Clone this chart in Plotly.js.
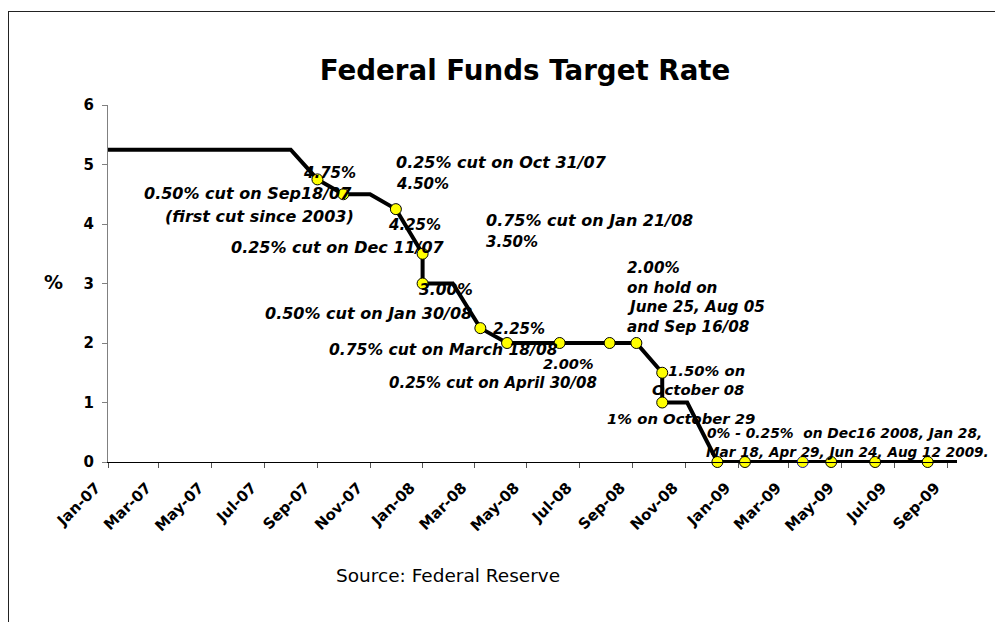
<!DOCTYPE html>
<html>
<head>
<meta charset="utf-8">
<script src="https://cdn.plot.ly/plotly-3.0.1.min.js"></script>
<style>
  html, body { margin: 0; padding: 0; background: #ffffff; overflow: hidden; }
  #chart { width: 995px; height: 622px; position: absolute; left: 0; top: 0; }
  #frame { position: absolute; left: 8px; top: 11px; width: 1100px; height: 700px;
           border-left: 1.5px solid #222; border-top: 1.5px solid #222; pointer-events: none; }
</style>
</head>
<body>
<div id="chart"></div>
<div id="frame"></div>
<script>
// Federal funds target rate path (line vertices)
const pathDates = ['2007-01-01','2007-08-01','2007-09-01','2007-10-01','2007-11-01','2007-12-01',
                   '2008-01-01','2008-01-01','2008-02-05','2008-03-08','2008-04-08','2008-06-08',
                   '2008-08-05','2008-09-05','2008-10-05','2008-10-05','2008-11-03','2008-12-08',
                   '2009-09-12'];
const pathRates = [5.25, 5.25, 4.75, 4.50, 4.50, 4.25,
                   3.50, 3.00, 3.00, 2.25, 2.00, 2.00,
                   2.00, 2.00, 1.50, 1.00, 1.00, 0.00,
                   0.00];

// FOMC decision points (yellow markers)
const meetingDates = ['2007-09-01','2007-10-01','2007-12-01','2008-01-01','2008-01-01','2008-03-08',
                      '2008-04-08','2008-06-08','2008-08-05','2008-09-05','2008-10-05','2008-10-05',
                      '2008-12-08','2009-01-09','2009-03-17','2009-04-19','2009-06-09','2009-08-09'];
const meetingRates = [4.75, 4.50, 4.25, 3.50, 3.00, 2.25,
                      2.00, 2.00, 2.00, 2.00, 1.50, 1.00,
                      0.00, 0.00, 0.00, 0.00, 0.00, 0.00];

// x-axis tick labels
const tickDates = ['2007-01-01','2007-03-01','2007-05-01','2007-07-01','2007-09-01','2007-11-01',
                   '2008-01-01','2008-03-01','2008-05-01','2008-07-01','2008-09-01','2008-11-01',
                   '2009-01-01','2009-03-01','2009-05-01','2009-07-01','2009-09-01'];
const tickLabels = ['Jan-07','Mar-07','May-07','Jul-07','Sep-07','Nov-07',
                    'Jan-08','Mar-08','May-08','Jul-08','Sep-08','Nov-08',
                    'Jan-09','Mar-09','May-09','Jul-09','Sep-09'];
const rateTicks = [0, 1, 2, 3, 4, 5, 6];

// plot-area edges in pixels, used to place the callout text
const PL = 108, PR = 957.5, PT = 104.5, PB = 462;
const px = x => (x - PL) / (PR - PL);
const py = y => (PB - y) / (PB - PT);

const FONT = 'DejaVu Sans, Verdana, sans-serif';

// callouts: [text, left x, centre y, font size]
const notes = [
  ['4.75%', 302, 173, 15],
  ['0.25% cut on Oct 31/07', 395, 162, 16],
  ['4.50%', 395, 184, 15],
  ['0.50% cut on Sep18/07', 143, 193, 16],
  ['(first cut since 2003)', 164, 216, 16],
  ['4.25%', 387, 225, 15],
  ['0.25% cut on Dec 11/07', 230, 247, 16],
  ['0.75% cut on Jan 21/08', 485, 220, 16],
  ['3.50%', 485, 242, 15],
  ['3.00%', 418, 290, 15.5],
  ['0.50% cut on Jan 30/08', 264, 313, 16],
  ['2.25%', 492, 329, 15],
  ['0.75% cut on March 18/08', 328, 350, 15.6],
  ['2.00%', 542, 363, 14.6],
  ['0.25% cut on April 30/08', 388, 383, 15],
  ['2.00%', 626, 268, 15.2],
  ['on hold on', 626, 288, 15.2],
  ['June 25, Aug 05', 626, 307, 15.2],
  ['and Sep 16/08', 626, 327, 15.2],
  ['1.50% on', 667, 370, 14.8],
  ['October 08', 651, 389, 14.8],
  ['1% on October 29', 606, 418, 14.8],
  ['0% - 0.25%\u00a0 on Dec16 2008, Jan 28,', 706, 433, 13.8],
  ['Mar 18, Apr 29, Jun 24, Aug 12 2009.', 705, 452, 13.6]
];

const annotations = notes.map(n => ({
  text: n[0], xref: 'paper', yref: 'paper', x: px(n[1]), y: py(n[2]),
  xanchor: 'left', yanchor: 'middle', showarrow: false, borderpad: 0,
  font: { family: FONT, size: n[3], color: '#000', weight: 'bold', style: 'italic' }
}));

annotations.push({
  text: '%', xref: 'paper', yref: 'paper', x: px(42), y: py(282),
  xanchor: 'left', yanchor: 'middle', showarrow: false,
  font: { family: FONT, size: 19, color: '#000', weight: 'bold' }
});
annotations.push({
  text: 'Source: Federal Reserve', xref: 'paper', yref: 'paper', x: px(334), y: py(576),
  xanchor: 'left', yanchor: 'middle', showarrow: false,
  font: { family: FONT, size: 18.5, color: '#000' }
});

const markerOutline = meetingDates.map(d => d === '2009-03-17' ? '#1a1aa0' : '#000000');

const traces = [
  {
    x: pathDates, y: pathRates, type: 'scatter', mode: 'lines',
    line: { color: '#000000', width: 4 }, cliponaxis: false, hoverinfo: 'skip'
  },
  {
    x: meetingDates, y: meetingRates, type: 'scatter', mode: 'markers',
    marker: { color: '#ffff00', size: 11, line: { color: markerOutline, width: 1 } },
    cliponaxis: false
  }
];

const layout = {
  width: 995, height: 622,
  margin: { l: PL, r: 995 - PR, t: PT, b: 622 - PB },
  paper_bgcolor: '#ffffff', plot_bgcolor: '#ffffff',
  showlegend: false,
  title: {
    text: 'Federal Funds Target Rate',
    font: { family: FONT, size: 27.7, color: '#000', weight: 'bold' },
    xref: 'container', yref: 'container', x: 525 / 995, xanchor: 'center',
    y: 1 - 70 / 622, yanchor: 'middle'
  },
  xaxis: {
    type: 'date', range: ['2007-01-01', '2009-09-12'],
    tickvals: tickDates, ticktext: tickLabels, tickangle: -45,
    tickfont: { family: FONT, size: 15, color: '#000', weight: 'bold' },
    ticklabelshift: -12, ticklabelstandoff: 5,
    ticks: 'outside', ticklen: 5, tickcolor: '#555', tickwidth: 1,
    showline: true, linecolor: '#000', linewidth: 1,
    showgrid: false, zeroline: false
  },
  yaxis: {
    range: [0, 6], tickvals: rateTicks,
    tickfont: { family: FONT, size: 15, color: '#000', weight: 'bold' },
    ticklabelstandoff: 5,
    ticks: 'outside', ticklen: 5, tickcolor: '#808080', tickwidth: 1,
    showline: true, linecolor: '#808080', linewidth: 1,
    showgrid: false, zeroline: false
  },
  annotations: annotations
};

Plotly.newPlot('chart', traces, layout, { staticPlot: true, displayModeBar: false });
</script>
</body>
</html>
